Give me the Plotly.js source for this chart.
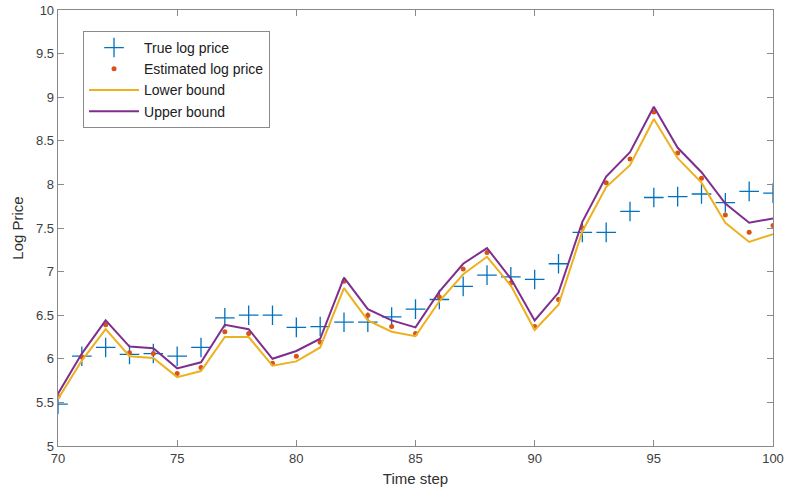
<!DOCTYPE html>
<html>
<head>
<meta charset="utf-8">
<script src="https://cdn.plot.ly/plotly-3.0.1.min.js"></script>
<style>html,body{margin:0;padding:0;background:#fff;}#chart{width:788px;height:504px;}</style>
</head>
<body>
<div id="chart"></div>
<script>
const timeSteps = [70,71,72,73,74,75,76,77,78,79,80,81,82,83,84,85,86,87,88,89,90,91,92,93,94,95,96,97,98,99,100];
const trueLogPrice = [5.48,6.03,6.13,6.05,6.06,6.03,6.13,6.47,6.50,6.50,6.36,6.37,6.42,6.42,6.48,6.57,6.68,6.83,6.96,6.94,6.91,7.09,7.45,7.45,7.69,7.85,7.86,7.89,7.79,7.92,7.90];
const estimatedLogPrice = [5.57,6.02,6.39,6.07,6.06,5.83,5.90,6.31,6.29,5.95,6.03,6.19,6.89,6.50,6.37,6.29,6.71,7.03,7.22,6.87,6.37,6.68,7.50,8.02,8.29,8.83,8.36,8.07,7.65,7.45,7.53];
const lowerBound = [5.54,5.98,6.34,6.03,6.01,5.79,5.86,6.25,6.25,5.92,5.97,6.13,6.81,6.44,6.31,6.26,6.66,6.97,7.17,6.84,6.33,6.62,7.46,7.97,8.22,8.75,8.30,8.02,7.56,7.34,7.43];
const upperBound = [5.60,6.06,6.44,6.14,6.12,5.89,5.96,6.39,6.34,6.00,6.09,6.23,6.93,6.57,6.44,6.36,6.77,7.09,7.27,6.92,6.44,6.76,7.57,8.09,8.37,8.89,8.42,8.14,7.78,7.56,7.61];
const xTicks = [70,75,80,85,90,95,100];
const yTicks = [5,5.5,6,6.5,7,7.5,8,8.5,9,9.5,10];

const traces = [
  {x: timeSteps, y: trueLogPrice, mode: 'markers', name: 'True log price',
   marker: {symbol: 'cross-thin-open', size: 14, line: {color: '#0072BD', width: 1.3}, color: '#0072BD'}},
  {x: timeSteps, y: estimatedLogPrice, mode: 'markers', name: 'Estimated log price',
   marker: {symbol: 'circle', size: 5, color: '#D95319'}},
  {x: timeSteps, y: lowerBound, mode: 'lines', name: 'Lower bound',
   line: {color: '#EDB120', width: 2}},
  {x: timeSteps, y: upperBound, mode: 'lines', name: 'Upper bound',
   line: {color: '#7E2F8E', width: 2}}
];

const axisCommon = {
  showline: true, linecolor: '#8a8a8a', linewidth: 1.3, mirror: 'ticks',
  ticks: 'inside', ticklen: 6, tickcolor: '#8a8a8a', tickwidth: 1,
  showgrid: false, zeroline: false,
  tickfont: {family: 'Liberation Sans, Arial, sans-serif', size: 13, color: '#404040'}
};

const layout = {
  width: 788, height: 504,
  margin: {l: 58, r: 15, t: 10, b: 58},
  paper_bgcolor: '#ffffff', plot_bgcolor: '#ffffff',
  showlegend: true,
  legend: {x: 0.035, y: 0.952, xanchor: 'left', yanchor: 'top',
           bordercolor: '#8a8a8a', borderwidth: 1, bgcolor: '#ffffff',
           font: {family: 'Liberation Sans, Arial, sans-serif', size: 14, color: '#202020'},
           tracegroupgap: 0, itemwidth: 50},
  xaxis: Object.assign({}, axisCommon, {range: [70, 100], tickvals: xTicks, ticktext: xTicks.map(String),
    title: {text: 'Time step', font: {family: 'Liberation Sans, Arial, sans-serif', size: 15, color: '#303030'}, standoff: 8}}),
  yaxis: Object.assign({}, axisCommon, {range: [5, 10], tickvals: yTicks, ticktext: yTicks.map(String),
    title: {text: 'Log Price', font: {family: 'Liberation Sans, Arial, sans-serif', size: 15, color: '#303030'}, standoff: 8}})
};

Plotly.newPlot('chart', traces, layout, {displayModeBar: false, staticPlot: true});
</script>
</body>
</html>
